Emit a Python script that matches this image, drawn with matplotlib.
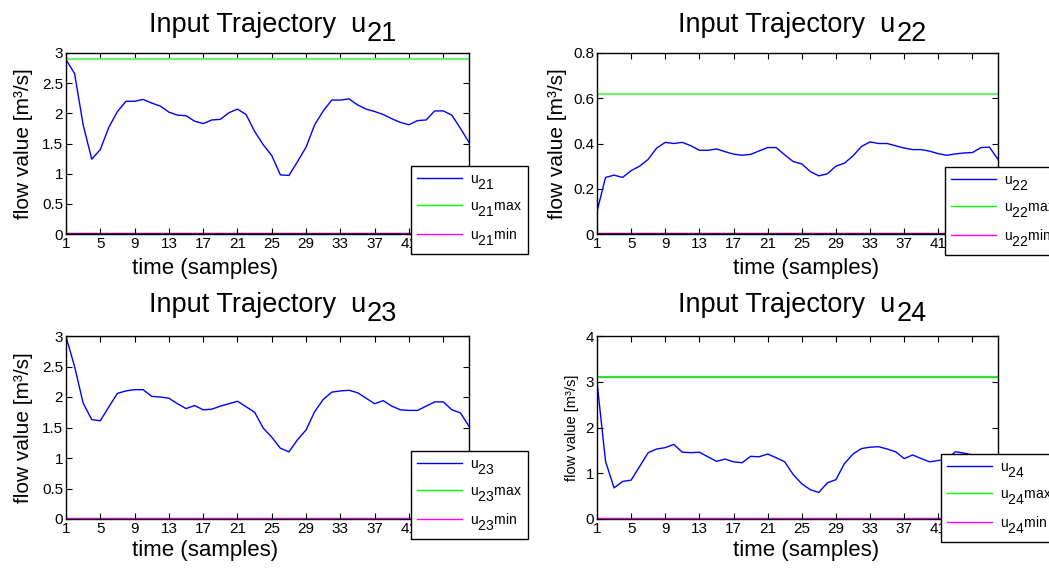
import numpy as np
import matplotlib
matplotlib.use("Agg")
import matplotlib.pyplot as plt
from matplotlib.lines import Line2D
try:
    import matplotlib._mathtext as _mt
    _mt.SHRINK_FACTOR = 1.0
    _mt.FontConstantsBase.sub1 = 0.85
except Exception:
    pass

plt.rcParams['font.family'] = ['Liberation Sans', 'DejaVu Sans']
plt.rcParams['mathtext.fontset'] = 'custom'
plt.rcParams['mathtext.rm'] = 'Liberation Sans'

samples = list(range(1, 49))

u21 = [2.89, 2.66, 1.81, 1.24, 1.40, 1.77, 2.03, 2.20, 2.20, 2.23, 2.17, 2.12,
       2.02, 1.97, 1.96, 1.87, 1.83, 1.89, 1.90, 2.01, 2.07, 1.98, 1.70, 1.48,
       1.30, 0.98, 0.97, 1.20, 1.44, 1.81, 2.04, 2.22, 2.22, 2.24, 2.14, 2.07,
       2.03, 1.98, 1.91, 1.85, 1.81, 1.88, 1.89, 2.04, 2.04, 1.97, 1.75, 1.52]
u22 = [0.10, 0.25, 0.26, 0.25, 0.28, 0.30, 0.33, 0.38, 0.405, 0.40, 0.405, 0.39,
       0.37, 0.37, 0.376, 0.364, 0.353, 0.348, 0.352, 0.367, 0.382, 0.382, 0.35, 0.32,
       0.31, 0.276, 0.257, 0.266, 0.30, 0.313, 0.345, 0.387, 0.407, 0.40, 0.40, 0.39,
       0.38, 0.373, 0.373, 0.366, 0.355, 0.348, 0.354, 0.358, 0.36, 0.382, 0.384, 0.33]
u23 = [2.99, 2.50, 1.90, 1.63, 1.61, 1.84, 2.06, 2.10, 2.12, 2.12, 2.01, 2.00,
       1.98, 1.89, 1.81, 1.86, 1.79, 1.80, 1.85, 1.89, 1.93, 1.84, 1.75, 1.49,
       1.34, 1.16, 1.10, 1.30, 1.46, 1.76, 1.96, 2.08, 2.10, 2.11, 2.07, 1.98,
       1.89, 1.94, 1.85, 1.79, 1.78, 1.78, 1.85, 1.92, 1.92, 1.79, 1.74, 1.52]
u24 = [3.00, 1.26, 0.68, 0.82, 0.85, 1.15, 1.45, 1.53, 1.56, 1.63, 1.46, 1.45,
       1.46, 1.36, 1.26, 1.31, 1.25, 1.23, 1.37, 1.36, 1.42, 1.34, 1.25, 0.97,
       0.77, 0.64, 0.58, 0.79, 0.86, 1.21, 1.42, 1.54, 1.57, 1.58, 1.53, 1.47,
       1.32, 1.40, 1.32, 1.25, 1.28, 1.30, 1.47, 1.44, 1.40, 1.38, 1.35, 1.30]

series = [u21, u22, u23, u24]
names = ['21', '22', '23', '24']
u_max = [2.9, 0.62, 3.0, 3.1]
u_min = [0.0, 0.0, 0.0, 0.0]
y_lims = [3, 0.8, 3, 4]
y_steps = [0.5, 0.2, 0.5, 1]
x_ticks = list(range(1, 46, 4))

W, H = 1049, 568
fig = plt.figure(figsize=(W / 100, H / 100), dpi=100)

# axes boxes in pixels: left, top, right, bottom
boxes = [(66, 53, 469, 234), (597, 53, 998, 234),
         (66, 336, 469, 519), (597, 336, 998, 519)]
legend_pos = [(411, 166), (945, 167), (411, 451), (941, 454)]
xlabel_x = [0.345, 0.522, 0.345, 0.522]
ylabel_x = [-0.082, -0.075, -0.082, -0.045]
ylabel_fs = [15, 15, 15, 10.5]
max_colors = ['#70f070', '#70f070', '#00c000', '#30e030']
min_colors = ['#880088', '#880088', '#ff00ff', '#ff00ff']

for k in range(4):
    l, t, r, b = boxes[k]
    ax = fig.add_axes([l / W, 1 - b / H, (r - l) / W, (b - t) / H])
    n = names[k]
    ax.plot(samples, series[k], color='#0000ff', lw=1.0)
    ax.axhline(u_max[k], color=max_colors[k], lw=1.6)
    ax.axhline(u_min[k], color=min_colors[k], lw=2.5, zorder=1)
    ax.set_xlim(1, 48)
    ax.set_ylim(0, y_lims[k])
    ax.set_xticks(x_ticks)
    ax.set_yticks(np.arange(0, y_lims[k] + 1e-9, y_steps[k]))
    ax.yaxis.set_major_formatter(matplotlib.ticker.FuncFormatter(
        lambda v, p: ('%g' % round(v, 3))))
    ax.tick_params(direction='in', top=True, right=True, labelsize=11,
                   length=4, width=0.8, pad=2)
    for s in ax.spines.values():
        s.set_linewidth(1.0)
    ax.set_xlabel('time (samples)', fontsize=16)
    ax.xaxis.set_label_coords(xlabel_x[k], -0.19 if k < 2 else -0.17)
    ax.xaxis.label.set_verticalalignment('center')
    ax.set_ylabel('flow value [m\u00b3/s]', fontsize=ylabel_fs[k])
    ax.yaxis.set_label_coords(ylabel_x[k], 0.5)
    # title: "Input Trajectory  u" with a full-size subscript
    base = (b - 32) / (b - t) if k < 2 else (b - 312) / (b - t)
    sub = (b - 41) / (b - t) if k < 2 else (b - 321) / (b - t)
    ax.text(0.745, base, 'Input Trajectory  u', transform=ax.transAxes,
            ha='right', va='baseline', fontsize=19.5)
    ax.text(0.747, sub, n, transform=ax.transAxes,
            ha='left', va='baseline', fontsize=19.5)
    handles = [Line2D([], [], color='#0000ff', lw=1.0),
               Line2D([], [], color='#00ff00', lw=1.0),
               Line2D([], [], color='#ff00ff', lw=1.0)]
    labels = [r'$\mathregular{u_{%s}}$' % n,
              r'$\mathregular{u_{%s}}$max' % n,
              r'$\mathregular{u_{%s}}$min' % n]
    lx, ly = legend_pos[k]
    leg = ax.legend(handles, labels, loc='upper left',
                    bbox_to_anchor=(lx / W, 1 - ly / H),
                    bbox_transform=fig.transFigure, fontsize=10,
                    frameon=True, fancybox=False, edgecolor='black',
                    framealpha=1, borderpad=0.45, labelspacing=0.5,
                    handlelength=3.2, handletextpad=0.6, borderaxespad=0)
    leg.get_frame().set_linewidth(1.0)
    leg.set_zorder(10)

fig.savefig('out.png', dpi=100)
